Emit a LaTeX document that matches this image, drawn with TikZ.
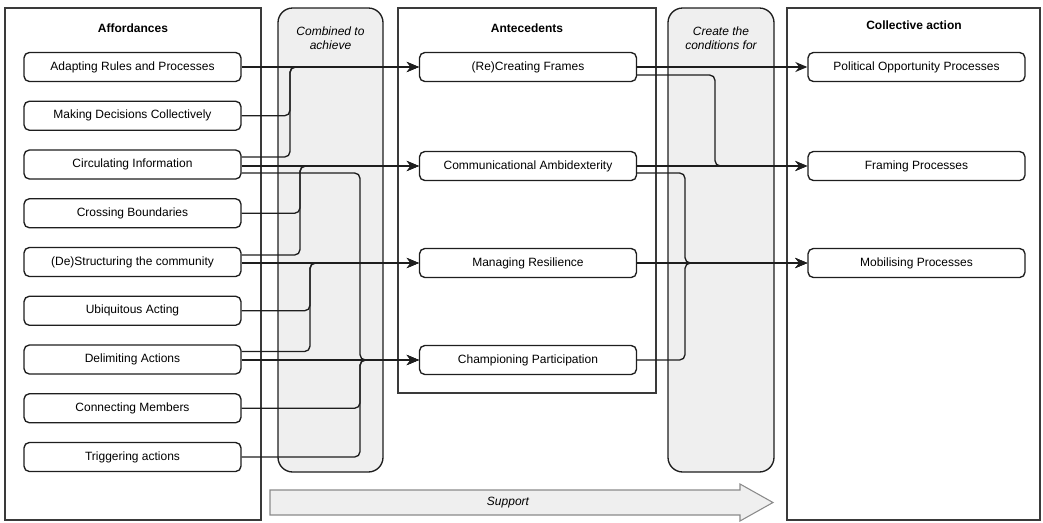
\documentclass[tikz,border=0pt]{standalone}
\usepackage{fontspec}
\setmainfont{Liberation Sans}
\usetikzlibrary{arrows.meta, calc}

\definecolor{linedark}{HTML}{1E1E1E}
\definecolor{panelgray}{HTML}{3A3A3A}
\definecolor{boxgray}{HTML}{EFEFEF}
\definecolor{arrowgray}{HTML}{8A8A8A}

\tikzset{
	panel/.style = {draw=panelgray, line width=1pt},
	stagebox/.style = {draw=linedark, fill=boxgray, line width=1pt, rounded corners=11pt},
	itembox/.style = {draw=linedark, fill=white, line width=1pt, rounded corners=4pt,
		minimum width=162.75pt, minimum height=21.75pt, inner sep=0pt,
		font=\fontsize{9}{11}\selectfont},
	heading/.style = {font=\fontsize{9}{11}\selectfont\bfseries},
	stagelabel/.style = {font=\fontsize{9}{10.5}\selectfont\itshape, align=center},
	link/.style = {draw=linedark, line width=1pt, rounded corners=4pt,
		-{Stealth[length=9pt, width=7.5pt]}},
	supportarrow/.style = {draw=arrowgray, fill=boxgray, line width=0.8pt},
}

\begin{document}
\begin{tikzpicture}[x=0.75pt, y=-0.75pt]
	\useasboundingbox (0,0) rectangle (1043,522);
	
	% panels and stage boxes
	\draw[panel] (5,8) rectangle (261,520);
	\draw[panel] (398,8) rectangle (656,393);
	\draw[panel] (787,8) rectangle (1040,520);
	\draw[stagebox] (278,8) rectangle (383,472);
	\draw[stagebox] (668,8) rectangle (774,472);
	
	\node[heading] (afftitle) at (133,28) {Affordances};
	\node[heading] (antetitle) at (527,28) {Antecedents};
	\node[heading] (colltitle) at (914,25) {Collective action};
	\node[stagelabel] (combined) at (330.5,38) {Combined to\\achieve};
	\node[stagelabel] (conditions) at (721,38) {Create the\\conditions for};
	
	% support arrow
	\draw[supportarrow] (270,490) -- (740,490) -- (740,484) -- (773,502.5)
		-- (740,521) -- (740,515) -- (270,515) -- cycle;
	\node[stagelabel] (support) at (508,503) {Support};
	
	% affordances
	\node[itembox] (adapt) at (132.5,67) {Adapting Rules and Processes};
	\node[itembox] (decide) at (132.5,115.75) {Making Decisions Collectively};
	\node[itembox] (circ) at (132.5,164.5) {Circulating Information};
	\node[itembox] (cross) at (132.5,213.25) {Crossing Boundaries};
	\node[itembox] (destr) at (132.5,262) {(De)Structuring the community};
	\node[itembox] (ubiq) at (132.5,310.75) {Ubiquitous Acting};
	\node[itembox] (delim) at (132.5,359.5) {Delimiting Actions};
	\node[itembox] (connect) at (132.5,408.25) {Connecting Members};
	\node[itembox] (trigger) at (132.5,457) {Triggering actions};
	
	% antecedents
	\node[itembox] (frames) at (528,67) {(Re)Creating Frames};
	\node[itembox] (ambi) at (528,166) {Communicational Ambidexterity};
	\node[itembox] (resil) at (528,263) {Managing Resilience};
	\node[itembox] (champ) at (528,360) {Championing Participation};
	
	% collective action
	\node[itembox] (polit) at (916.5,67) {Political Opportunity Processes};
	\node[itembox] (framing) at (916.5,166) {Framing Processes};
	\node[itembox] (mobil) at (916.5,263) {Mobilising Processes};
	
	% bus lines
	\coordinate (busframes) at (290,0);
	\coordinate (busambi) at (300,0);
	\coordinate (busresil) at (310,0);
	\coordinate (buschamp) at (360,0);
	\coordinate (busmobil) at (685,0);
	\coordinate (busframing) at (715,0);
	
	% affordances to antecedents
	\draw[link] (adapt.east) -- (frames.west);
	\draw[link] (decide.east) -| (busframes |- frames.west) -- (frames.west);
	\draw[link] ($(circ.east)+(0,-7.5)$) -| (busframes |- frames.west) -- (frames.west);
	
	\draw[link] (circ.east |- ambi.west) -- (ambi.west);
	\draw[link] (cross.east) -| (busambi |- ambi.west) -- (ambi.west);
	\draw[link] ($(destr.east)+(0,-7)$) -| (busambi |- ambi.west) -- (ambi.west);
	
	\draw[link] (destr.east |- resil.west) -- (resil.west);
	\draw[link] (ubiq.east) -| (busresil |- resil.west) -- (resil.west);
	\draw[link] ($(delim.east)+(0,-8)$) -| (busresil |- resil.west) -- (resil.west);
	
	\draw[link] (delim.east |- champ.west) -- (champ.west);
	\draw[link] ($(circ.east)+(0,8.5)$) -| (buschamp |- champ.west) -- (champ.west);
	\draw[link] (connect.east) -| (buschamp |- champ.west) -- (champ.west);
	\draw[link] (trigger.east) -| (buschamp |- champ.west) -- (champ.west);
	
	% antecedents to collective action
	\draw[link] (frames.east) -- (polit.west);
	\draw[link] ($(frames.east)+(0,8)$) -| (busframing |- framing.west) -- (framing.west);
	\draw[link] (ambi.east) -- (framing.west);
	\draw[link] ($(ambi.east)+(0,7)$) -| (busmobil |- mobil.west) -- (mobil.west);
	\draw[link] (resil.east) -- (mobil.west);
	\draw[link] (champ.east) -| (busmobil |- mobil.west) -- (mobil.west);
\end{tikzpicture}
\end{document}
